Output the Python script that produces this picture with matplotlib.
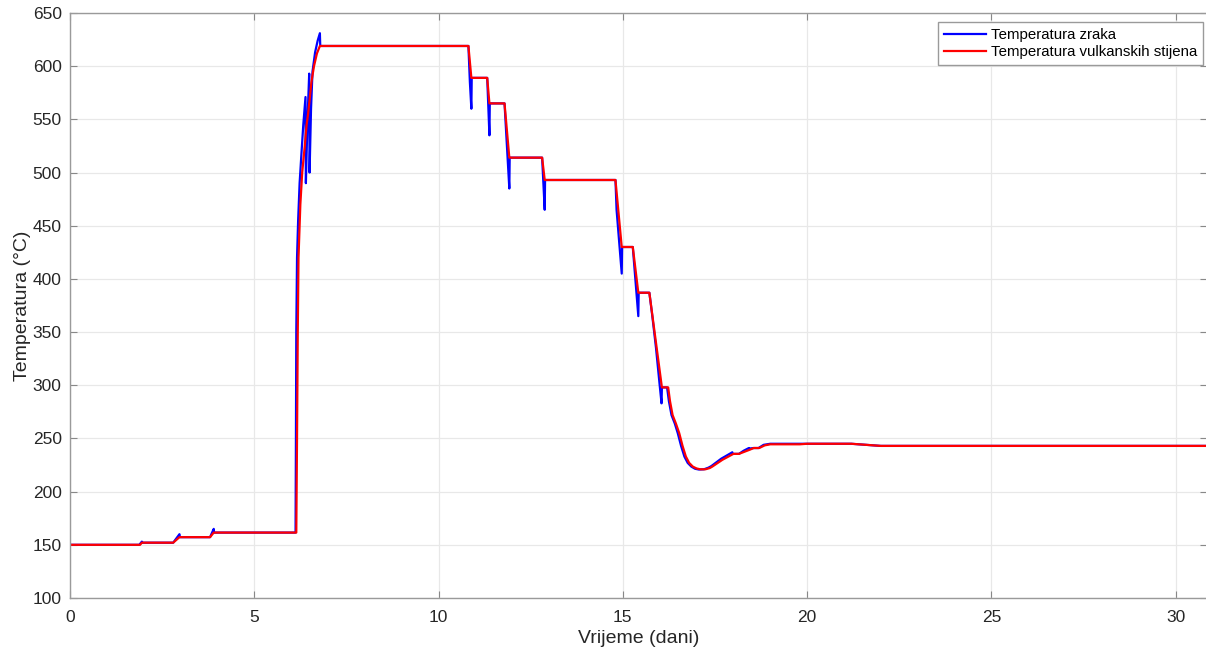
import matplotlib
matplotlib.use("Agg")
import matplotlib.pyplot as plt

plt.rcParams['font.family'] = ['Liberation Sans', 'DejaVu Sans']

# Temperatura zraka (air)
t_air = [0.0, 1.88, 1.95, 1.96, 2.80, 2.97, 2.98, 3.80, 3.90, 3.91, 6.12,
         6.13, 6.14, 6.16, 6.19, 6.23, 6.28, 6.33, 6.39, 6.40, 6.44, 6.49, 6.50,
         6.54, 6.58, 6.65, 6.72, 6.78, 6.79,
         10.81, 10.85, 10.89, 10.90, 11.32, 11.38, 11.39, 11.79, 11.92, 11.93,
         12.81, 12.88, 12.89, 14.80, 14.83, 14.90, 14.97, 14.98, 15.27, 15.42, 15.43,
         15.72, 15.80, 15.90, 16.00, 16.05, 16.06, 16.20, 16.25, 16.32, 16.41,
         16.49, 16.58, 16.67, 16.76, 16.86, 16.96, 17.06, 17.20, 17.32, 17.40,
         17.67, 17.97, 17.98, 18.15, 18.28, 18.42, 18.43, 18.55, 18.68, 18.82,
         19.00, 19.80, 20.00, 21.20, 21.60, 22.00, 22.50, 30.85]
T_air = [150, 150, 153, 152, 152, 160, 157.2, 157.2, 165, 161.5, 161.5,
         250, 350, 420, 455, 490, 518, 545, 571, 490, 545, 593, 500,
         560, 595, 613, 624, 631, 619,
         619, 585, 560, 589, 589, 535, 565, 565, 485, 514,
         514, 465, 493, 493, 465, 435, 405, 430, 430, 365, 387,
         387, 365, 335, 300, 283, 298, 298, 285, 272, 264,
         255, 243, 233, 227, 223.5, 221.5, 220.8, 221, 222.5, 224,
         231, 237, 235.5, 235.5, 238.5, 241, 240.5, 241, 241, 244,
         245, 245, 245, 245, 244, 243, 243, 243]

# Temperatura vulkanskih stijena (rock)
t_rock = [0.0, 1.90, 1.95, 2.80, 2.97, 3.80, 3.90, 6.14,
          6.16, 6.18, 6.20, 6.25, 6.30, 6.37, 6.42, 6.46, 6.50, 6.55, 6.62, 6.70, 6.78,
          10.81, 10.89, 11.32, 11.38, 11.79, 11.92, 12.81, 12.88,
          14.80, 14.97, 15.27, 15.42, 15.72, 16.06, 16.23,
          16.28, 16.35, 16.44, 16.53, 16.62, 16.71, 16.80, 16.90, 17.00, 17.10,
          17.24, 17.36, 17.43, 17.70,
          18.00, 18.15, 18.30, 18.45, 18.55, 18.70, 18.85, 19.00, 19.80, 20.00,
          21.20, 21.60, 22.00, 22.50, 30.85]
T_rock = [150, 150, 152, 152, 157.2, 157.2, 161.5, 161.5,
          250, 350, 420, 470, 500, 525, 545, 555, 568, 585, 600, 612, 619,
          619, 589, 589, 565, 565, 514, 514, 493,
          493, 430, 430, 387, 387, 298, 298,
          285, 272, 264, 255, 243, 233, 227, 223.5, 221.8, 221,
          221, 222.2, 223.6, 229.9,
          235.5, 235.5, 237.5, 239.5, 241, 241, 243.5, 244.5, 244.5, 245,
          245, 244, 243, 243, 243]

x_ticks = [0, 5, 10, 15, 20, 25, 30]
y_ticks = [100, 150, 200, 250, 300, 350, 400, 450, 500, 550, 600, 650]

fig = plt.figure(figsize=(12.06, 6.52), dpi=100)
ax = fig.add_axes([70 / 1206, 54 / 652, 1137 / 1206, 585 / 652])

ax.plot(t_air, T_air, color='#0000ff', lw=1.6, label='Temperatura zraka')
ax.plot(t_rock, T_rock, color='#ff0000', lw=1.6, label='Temperatura vulkanskih stijena')

ax.set_xlim(0, 30.85)
ax.set_ylim(100, 650)
ax.set_xticks(x_ticks)
ax.set_yticks(y_ticks)
ax.grid(True, color='#e8e8e8', lw=0.9)
ax.set_axisbelow(True)
ax.tick_params(direction='in', length=5, colors='#888888', labelcolor='#262626',
               labelsize=12.5, top=True, right=True)
ax.tick_params(axis='x', pad=9)
ax.tick_params(axis='y', pad=6)
for s in ax.spines.values():
    s.set_color('#9a9a9a')
    s.set_linewidth(1.0)

ax.set_xlabel('Vrijeme (dani)', fontsize=14, color='#262626', labelpad=3)
ax.set_ylabel('Temperatura (°C)', fontsize=14, color='#262626', labelpad=1)

leg = ax.legend(loc='upper right', fontsize=10.8, frameon=True, fancybox=False,
                edgecolor='#9a9a9a', framealpha=1, handlelength=2.8,
                borderaxespad=0.0, labelspacing=0.2, handletextpad=0.3,
                borderpad=0.4,
                bbox_to_anchor=((1203 - 70) / 1137, 1 - 9 / 585))
leg.get_frame().set_linewidth(1.0)

fig.savefig('out.png', dpi=100)
